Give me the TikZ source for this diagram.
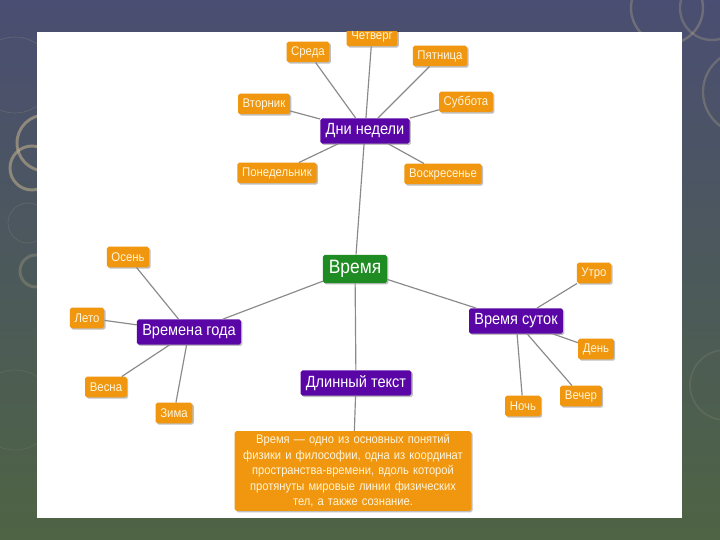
\documentclass[tikz,border=0pt]{standalone}
\usepackage{fontspec}
\setmainfont{Liberation Sans}
\newfontfamily\mapfont[FakeStretch=0.9]{Liberation Sans}
\usepackage{tikz}
\usetikzlibrary{shadows}
\definecolor{bgtop}{HTML}{4A4E72}
\definecolor{bgbot}{HTML}{4E6444}
\definecolor{ring}{HTML}{B9AB8A}
\definecolor{corange}{HTML}{F0960F}
\definecolor{cpurple}{HTML}{5A06A6}
\definecolor{cgreen}{HTML}{1E8C22}
\definecolor{ctext}{HTML}{FFF6DC}
\definecolor{cline}{HTML}{8A8A8A}

\tikzset{
  box/.style={rounded corners=1.5pt, inner xsep=4pt, inner ysep=2pt,
    drop shadow={shadow xshift=1.2pt, shadow yshift=-1.2pt, fill=black, opacity=0.25}},
  leaf/.style={box, fill=corange, text=ctext, minimum height=17.5pt, font=\mapfont\fontsize{10.8}{12}\selectfont},
  branch/.style={box, fill=cpurple, text=white, minimum height=21.5pt, inner xsep=4.5pt, font=\mapfont\fontsize{13.8}{15}\selectfont},
  root/.style={box, fill=cgreen, text=white, minimum height=24pt, inner xsep=5pt, font=\mapfont\fontsize{16.5}{18}\selectfont},
  link/.style={draw=cline, line width=1pt}
}

\begin{document}
\begin{tikzpicture}[x=0.03cm, y=-0.03cm]
  % Slide background
  \clip (0,0) rectangle (720,540);
  \shade[top color=bgtop, bottom color=bgbot] (0,0) rectangle (720,540);
  \draw[ring, opacity=0.25, line width=0.5pt] (15,75) circle (38);
  \draw[ring, opacity=0.6, line width=2.5pt] (45,143) circle (28);
  \draw[ring, opacity=0.6, line width=2.5pt] (32,168) circle (22);
  \draw[ring, opacity=0.2, line width=0.6pt] (28,223) circle (20);
  \draw[ring, opacity=0.3, line width=2.5pt] (36,271) circle (16);
  \draw[ring, opacity=0.15, line width=0.6pt] (15,410) circle (40);
  \draw[ring, opacity=0.35, line width=2pt] (667,8) circle (36);
  \draw[ring, opacity=0.3, line width=2pt] (712,8) circle (32);
  \draw[ring, opacity=0.3, line width=2pt] (745,92) circle (42);
  \draw[ring, opacity=0.15, line width=1.5pt] (725,385) circle (35);

  % White panel
  \fill[white] (37,32) rectangle (682,518);

  \begin{scope}
    \clip (37,32) rectangle (682,518);

    % Centre and branches
    \node[root] (time) at (355,269) {Время};
    \node[branch] (days) at (365,131) {Дни недели};
    \node[branch] (seasons) at (189,332) {Времена года};
    \node[branch] (daytime) at (516,321) {Время суток};
    \node[branch] (longtext) at (356,383) {Длинный текст};

    % Leaves
    \foreach \n/\x/\y/\t in {thu/372/36/Четверг, wed/308/52/Среда, fri/440/56/Пятница,
        tue/264/104/Вторник, sat/466/102/Суббота, mon/277/173/Понедельник,
        sun/443/174/Воскресенье}
      \node[leaf] (\n) at (\x,\y) {\t};
    \foreach \n/\x/\y/\t in {autumn/128/257/Осень, summer/87/318/Лето,
        spring/106/387/Весна, winter/174/413/Зима}
      \node[leaf] (\n) at (\x,\y) {\t};
    \foreach \n/\x/\y/\t in {morning/594/273/Утро, day/596/349/День,
        evening/581/396/Вечер, night/523/406/Ночь}
      \node[leaf] (\n) at (\x,\y) {\t};

    \node[leaf, align=center, inner xsep=3pt, inner ysep=3pt,
      text width=196pt, font=\mapfont\fontsize{10.6}{13.2}\selectfont] (about) at (353,471)
      {Время — одно из основных понятий\\ физики и философии, одна из координат\\
       пространства-времени, вдоль которой\\ протянуты мировые линии физических\\
       тел, а также сознание.};

    % Connectors
    \draw[link] (time) -- (days);
    \draw[link] (time) -- (seasons);
    \draw[link] (time) -- (daytime);
    \draw[link] (time) -- (longtext);
    \draw[link] (longtext) -- (about);
    \foreach \n in {thu, wed, fri, tue, sat, mon, sun}
      \draw[link] (days) -- (\n);
    \foreach \n in {autumn, summer, spring, winter}
      \draw[link] (seasons) -- (\n);
    \foreach \n in {morning, day, evening, night}
      \draw[link] (daytime) -- (\n);
  \end{scope}
\end{tikzpicture}
\end{document}
